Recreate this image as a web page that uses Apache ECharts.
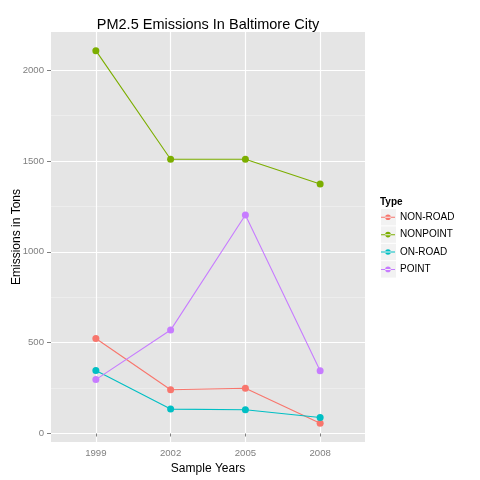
<!DOCTYPE html>
<html>
<head>
<meta charset="utf-8">
<script src="https://cdn.jsdelivr.net/npm/echarts@6/dist/echarts.min.js"></script>
<style>
  html, body { margin: 0; padding: 0; background: #fff; }
  #chart { width: 480px; height: 480px; }
</style>
</head>
<body>
<div id="chart"></div>
<script>
// values (tons of PM2.5 per year)
const years = [1999, 2002, 2005, 2008];
const types = ['NON-ROAD', 'NONPOINT', 'ON-ROAD', 'POINT'];
const nonRoad = [522.9, 240.8, 248.9, 55.8];
const nonPoint = [2107.6, 1509.5, 1509.5, 1373.2];
const onRoad = [346.8, 134.3, 130.4, 88.3];
const point = [296.8, 569.3, 1202.5, 345.0];
const yTicks = [0, 500, 1000, 1500, 2000];

const colors = ['#F8766D', '#7CAE00', '#00BFC4', '#C77CFF'];
const seriesValues = [nonRoad, nonPoint, onRoad, point];
const font = 'Liberation Sans, Arial, sans-serif';

// ggplot style expansion: 5% for continuous, 0.6 step for discrete
const all = seriesValues.flat();
const lo = Math.min(...all), hi = Math.max(...all);
const yMin = lo - 0.05 * (hi - lo);
const yMax = hi + 0.05 * (hi - lo);
const step = years[1] - years[0];

const keyIcon = 'path://M0,5.5h16v1.1h-16z M8,6m-3.2,0a3.2,3.2 0 1,0 6.4,0a3.2,3.2 0 1,0 -6.4,0';

const legendTop = 209, keyPitch = 17.4;

const chart = echarts.init(document.getElementById('chart'));

const option = {
  backgroundColor: '#fff',
  animation: false,
  textStyle: { fontFamily: font },
  title: [
    {
      text: 'PM2.5 Emissions In Baltimore City',
      left: 208, top: 17, textAlign: 'center', padding: 0,
      textStyle: { fontSize: 14.5, fontWeight: 'normal', color: '#000', fontFamily: font }
    },
    {
      text: 'Type',
      left: 380, top: 197, padding: 0,
      textStyle: { fontSize: 10, fontWeight: 'bold', color: '#000', fontFamily: font }
    }
  ],
  graphic: types.map((t, i) => ({
    type: 'rect', z: 0,
    shape: { x: 381, y: legendTop + i * keyPitch, width: 15, height: 16.4 },
    style: { fill: '#F2F2F2' }
  })),
  legend: {
    orient: 'vertical',
    left: 381, top: legendTop + 3.2,
    padding: 0,
    itemWidth: 14, itemHeight: 10, itemGap: 7.4,
    icon: keyIcon,
    data: types,
    z: 5,
    textStyle: { fontSize: 10, color: '#000', fontFamily: font }
  },
  grid: {
    left: 51, right: 115, top: 32, bottom: 38,
    outerBoundsMode: 'none',
    show: true, backgroundColor: '#E5E5E5', borderWidth: 0
  },
  xAxis: {
    type: 'value',
    min: years[0] - 0.6 * step,
    max: years[years.length - 1] + 0.6 * step,
    name: 'Sample Years',
    nameLocation: 'middle', nameGap: 21, nameMoveOverlap: false,
    nameTextStyle: { fontSize: 12, color: '#000', fontFamily: font },
    axisLine: { show: false },
    axisTick: { show: true, length: 3, customValues: years, lineStyle: { color: '#7F7F7F' } },
    axisLabel: {
      customValues: years, margin: 6, fontSize: 9.6, color: '#7F7F7F',
      formatter: v => String(v)
    },
    splitLine: { show: true, lineStyle: { color: '#fff', width: 1.2 } },
    minorSplitLine: { show: false }
  },
  yAxis: {
    type: 'value',
    min: yMin, max: yMax,
    name: 'Emissions in Tons',
    nameLocation: 'middle', nameGap: 28, nameRotate: 90, nameMoveOverlap: false,
    nameTextStyle: { fontSize: 12, color: '#000', fontFamily: font },
    axisLine: { show: false },
    axisTick: { show: true, length: 4, customValues: yTicks, lineStyle: { color: '#7F7F7F' } },
    axisLabel: {
      customValues: yTicks, margin: 7, fontSize: 9.6, color: '#7F7F7F',
      formatter: v => String(v)
    },
    splitLine: { show: true, lineStyle: { color: '#fff', width: 1.2 } },
    minorTick: { show: false, splitNumber: 2 },
    minorSplitLine: { show: true, lineStyle: { color: '#F2F2F2', width: 0.6 } }
  },
  series: types.map((t, i) => ({
    name: t,
    type: 'line',
    data: years.map((y, j) => [y, seriesValues[i][j]]),
    symbol: 'circle',
    symbolSize: 7,
    color: colors[i],
    lineStyle: { width: 1.1, color: colors[i] },
    itemStyle: { color: colors[i] }
  }))
};

chart.setOption(option);
</script>
</body>
</html>
